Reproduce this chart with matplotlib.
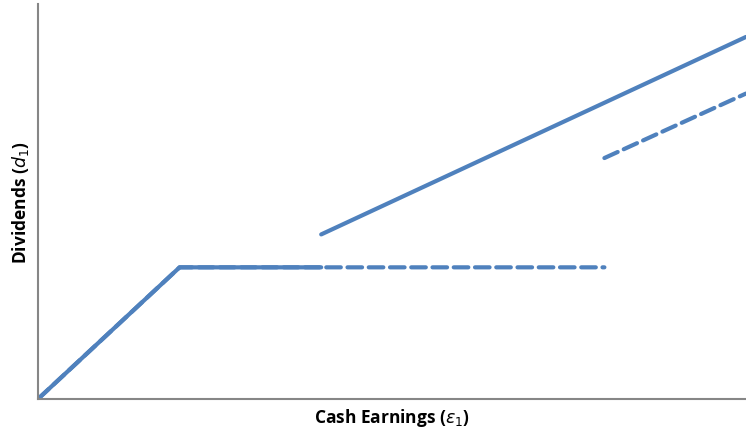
import matplotlib.pyplot as plt

# cash earnings vs dividends, two policies
solid_x1 = [0, 2, 4]
solid_y1 = [0, 2, 2]
solid_x2 = [4, 10]
solid_y2 = [2.5, 5.5]

dash_x1 = [0, 2, 8]
dash_y1 = [0, 2, 2]
dash_x2 = [8, 10]
dash_y2 = [3.66, 4.64]

blue = '#4F81BD'

fig = plt.figure(figsize=(7.46, 4.35), dpi=100)
ax = fig.add_axes([38 / 746, 35 / 435, 708 / 746, 395 / 435])

ax.plot(dash_x1, dash_y1, color=blue, lw=3, ls=(0, (3.5, 1.6)),
        solid_capstyle='round', dash_capstyle='round')
ax.plot(dash_x2, dash_y2, color=blue, lw=3, ls=(0, (3.5, 1.6)),
        dash_capstyle='round')
ax.plot(solid_x1, solid_y1, color=blue, lw=3, solid_capstyle='round')
ax.plot(solid_x2, solid_y2, color=blue, lw=3, solid_capstyle='round')

ax.set_xlim(0, 10)
ax.set_ylim(0, 6)
ax.set_xticks([])
ax.set_yticks([])
for side in ['top', 'right']:
    ax.spines[side].set_visible(False)
for side in ['left', 'bottom']:
    ax.spines[side].set_color('#868686')
    ax.spines[side].set_linewidth(1.5)

font = dict(family='Open Sans', weight='bold', size=12.5)
ax.set_xlabel(r'Cash Earnings ($\varepsilon_1$)', labelpad=5, **font)
ax.set_ylabel(r'Dividends ($d_1$)', labelpad=5, **font)

fig.savefig('out.png', dpi=100)
